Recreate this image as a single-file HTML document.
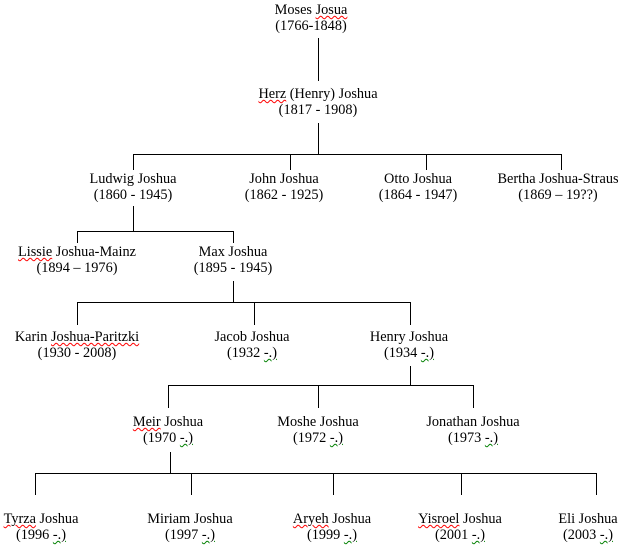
<!DOCTYPE html>
<html><head><meta charset="utf-8"><style>
body{margin:0;width:627px;height:547px;background:#fff;position:relative;overflow:hidden;font-family:"Liberation Serif",serif;font-size:14.3px;color:#000}
.n{position:absolute;text-align:center;line-height:16px;white-space:nowrap;transform:translateX(-50%)}
.r{text-decoration:underline wavy red;text-decoration-thickness:1px}
.g{text-decoration:underline wavy green;text-decoration-thickness:1px}
svg{position:absolute;left:0;top:0}
</style></head><body>
<svg width="627" height="547" stroke="#000" stroke-width="1" fill="none" shape-rendering="crispEdges">
<path d="M318.5 38V81"/>
<path d="M318.5 123V154.5M133.5 154.5H561.5M133.5 154V170M290.5 154V170M426.5 154V170M561.5 154V170"/>
<path d="M133.5 206V231.5M77.5 231.5H233.5M77.5 231V243M233.5 231V243"/>
<path d="M233.5 281V302.5M77.5 302.5H410.5M77.5 302V325M254.5 302V325M410.5 302V325"/>
<path d="M410.5 366V385.5M168.5 385.5H473.5M168.5 385V408M318.5 385V408M473.5 385V408"/>
<path d="M170.5 452V473.5M35.5 473.5H596.5M35.5 473V495M191.5 473V495M333.5 473V495M461.5 473V495M596.5 473V495"/>
</svg>
<div class="n" style="left:311px;top:2px">Moses <span class="r">Josua</span><br>(1766-1848)</div>
<div class="n" style="left:318px;top:86px"><span class="r">Herz</span> (Henry) Joshua<br>(1817 - 1908)</div>
<div class="n" style="left:133px;top:171px">Ludwig Joshua<br>(1860 - 1945)</div>
<div class="n" style="left:284px;top:171px">John Joshua<br>(1862 - 1925)</div>
<div class="n" style="left:418px;top:171px">Otto Joshua<br>(1864 - 1947)</div>
<div class="n" style="left:558px;top:171px">Bertha Joshua-Straus<br>(1869 – 19??)</div>
<div class="n" style="left:77px;top:244px"><span class="r">Lissie</span> Joshua-Mainz<br>(1894 – 1976)</div>
<div class="n" style="left:233px;top:244px">Max Joshua<br>(1895 - 1945)</div>
<div class="n" style="left:77px;top:329px">Karin <span class="r">Joshua-Paritzki</span><br>(1930 - 2008)</div>
<div class="n" style="left:252px;top:329px">Jacob Joshua<br>(1932 <span class="g">-.)</span></div>
<div class="n" style="left:409px;top:329px">Henry Joshua<br>(1934 <span class="g">-.)</span></div>
<div class="n" style="left:168px;top:414px"><span class="r">Meir</span> Joshua<br>(1970 <span class="g">-.)</span></div>
<div class="n" style="left:318px;top:414px">Moshe Joshua<br>(1972 <span class="g">-.)</span></div>
<div class="n" style="left:473px;top:414px">Jonathan Joshua<br>(1973 <span class="g">-.)</span></div>
<div class="n" style="left:41px;top:511px"><span class="r">Tyrza</span> Joshua<br>(1996 <span class="g">-.)</span></div>
<div class="n" style="left:190px;top:511px">Miriam Joshua<br>(1997 <span class="g">-.)</span></div>
<div class="n" style="left:332px;top:511px"><span class="r">Aryeh</span> Joshua<br>(1999 <span class="g">-.)</span></div>
<div class="n" style="left:460px;top:511px"><span class="r">Yisroel</span> Joshua<br>(2001 <span class="g">-.)</span></div>
<div class="n" style="left:588px;top:511px">Eli Joshua<br>(2003 <span class="g">-.)</span></div>
</body></html>
